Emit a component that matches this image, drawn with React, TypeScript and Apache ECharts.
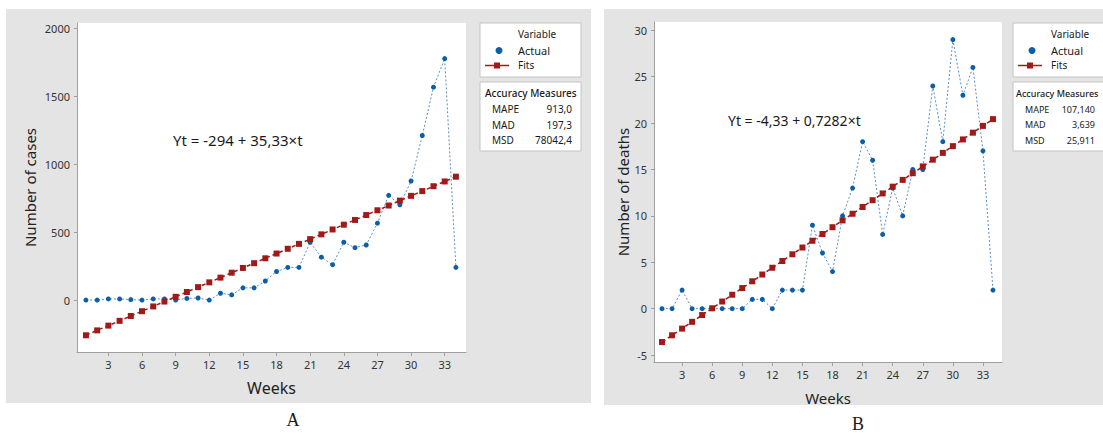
import React, { useEffect, useRef } from 'react';
import * as echarts from 'echarts';

const weeks = [1, 2, 3, 4, 5, 6, 7, 8, 9, 10, 11, 12, 13, 14, 15, 16, 17, 18, 19, 20, 21, 22, 23, 24, 25, 26, 27, 28, 29, 30, 31, 32, 33, 34];
const casesActual = [0, 0, 8, 8, 3, 0, 8, 8, 0, 12, 15, 0, 50, 38, 90, 90, 140, 210, 240, 240, 425, 315, 260, 425, 385, 405, 565, 770, 700, 875, 1210, 1565, 1775, 240];
const casesFits = [-259, -223, -188, -153, -117, -82, -47, -11, 24, 59, 95, 130, 165, 201, 236, 271, 307, 342, 377, 413, 448, 483, 519, 554, 589, 625, 660, 695, 731, 766, 801, 837, 872, 907];
const deathsActual = [0, 0, 2, 0, 0, 0, 0, 0, 0, 1, 1, 0, 2, 2, 2, 9, 6, 4, 10, 13, 18, 16, 8, 13, 10, 15, 15, 24, 18, 29, 23, 26, 17, 2];
const deathsFits = [-3.6, -2.87, -2.15, -1.42, -0.69, 0.04, 0.77, 1.5, 2.22, 2.95, 3.68, 4.41, 5.14, 5.86, 6.59, 7.32, 8.05, 8.78, 9.51, 10.23, 10.96, 11.69, 12.42, 13.15, 13.88, 14.6, 15.33, 16.06, 16.79, 17.52, 18.24, 18.97, 19.7, 20.43];
const weekTicks = [3, 6, 9, 12, 15, 18, 21, 24, 27, 30, 33];
const caseTicks = [0, 500, 1000, 1500, 2000];
const deathTicks = [-5, 0, 5, 10, 15, 20, 25, 30];
const accuracyLabels = ['MAPE', 'MAD', 'MSD'];
const casesAccuracy = ['913,0', '197,3', '78042,4'];
const deathsAccuracy = ['107,140', '3,639', '25,911'];

const FONT = '"Noto Sans", sans-serif';
const BLUE = '#0b5ea8';
const RED = '#a01a1a';
const AXIS = '#a0a0a0';

function txt(x: number, y: number, text: string, size: number, extra: any = {}) {
  const align = extra.align || 'left';
  return {
    type: 'text',
    x,
    y,
    z: 10,
    style: {
      text,
      fontSize: size,
      fontFamily: extra.family || FONT,
      fontWeight: extra.weight || 'normal',
      fill: extra.fill || '#1a1a1a',
      align,
      textAlign: align,
      verticalAlign: 'middle',
      textVerticalAlign: 'middle',
    },
  };
}

function legendBlock(x0: number, width: number, labels: string[], values: string[], valRight: number, fs: number, accX: number) {
  const els: any[] = [];
  els.push({ type: 'rect', z: 5, shape: { x: x0, y: 23, width, height: 54 }, style: { fill: '#fff', stroke: '#c4c4c4', lineWidth: 1 } });
  els.push(txt(x0 + 38, 34, 'Variable', 10));
  els.push({ type: 'circle', z: 10, shape: { cx: x0 + 19, cy: 50.5, r: 3.5 }, style: { fill: BLUE } });
  els.push(txt(x0 + 38, 50, 'Actual', 11));
  els.push({ type: 'line', z: 10, shape: { x1: x0 + 5, y1: 65.5, x2: x0 + 29, y2: 65.5 }, style: { stroke: RED, lineWidth: 1.5 } });
  els.push({ type: 'rect', z: 11, shape: { x: x0 + 14, y: 62.5, width: 6, height: 6 }, style: { fill: RED } });
  els.push(txt(x0 + 38, 65, 'Fits', 10));
  els.push({ type: 'rect', z: 5, shape: { x: x0, y: 82, width, height: 69 }, style: { fill: '#fff', stroke: '#c4c4c4', lineWidth: 1 } });
  els.push(txt(accX, 93, 'Accuracy Measures', fs, { weight: 500 }));
  labels.forEach((l, i) => {
    els.push(txt(x0 + 12, 109 + i * 15.5, l, fs));
    els.push(txt(valRight, 109 + i * 15.5, values[i], fs, { align: 'right' }));
  });
  return els;
}

function axisX(gridIndex: number, gap: number, nameSize: number) {
  return {
    gridIndex,
    type: 'value',
    min: 0.2,
    max: 34.9,
    name: 'Weeks',
    nameLocation: 'middle',
    nameGap: gap,
    nameTextStyle: { fontSize: nameSize, color: '#222', fontFamily: FONT },
    axisLine: { show: true, onZero: false, lineStyle: { color: AXIS, width: 1 } },
    axisTick: { show: true, length: 4, customValues: weekTicks, lineStyle: { color: AXIS } },
    axisLabel: { customValues: weekTicks, fontSize: 11, color: '#333', margin: 7, fontFamily: FONT },
    splitLine: { show: false },
  };
}

function axisY(gridIndex: number, min: number, max: number, ticks: number[], name: string, gap: number) {
  return {
    gridIndex,
    type: 'value',
    min,
    max,
    name,
    nameLocation: 'middle',
    nameGap: gap,
    nameTextStyle: { fontSize: 15, color: '#222', fontFamily: FONT },
    axisLine: { show: true, onZero: false, lineStyle: { color: AXIS, width: 1 } },
    axisTick: { show: true, length: 3, customValues: ticks, lineStyle: { color: AXIS } },
    axisLabel: {
      customValues: ticks,
      fontSize: 11,
      color: '#333',
      margin: 7,
      fontFamily: FONT,
      formatter: (v: number) => String(v),
    },
    splitLine: { show: false },
  };
}

function actualSeries(idx: number, vals: number[]) {
  return {
    type: 'line',
    xAxisIndex: idx,
    yAxisIndex: idx,
    data: weeks.map((w, i) => [w, vals[i]]),
    symbol: 'circle',
    symbolSize: 5,
    itemStyle: { color: BLUE },
    lineStyle: { color: '#5a8ec6', width: 1, type: [2, 2] },
    z: 3,
  };
}

function fitSeries(idx: number, vals: number[]) {
  return {
    type: 'line',
    xAxisIndex: idx,
    yAxisIndex: idx,
    data: weeks.map((w, i) => [w, vals[i]]),
    symbol: 'rect',
    symbolSize: 6,
    itemStyle: { color: RED },
    lineStyle: { color: RED, width: 1.5, type: [4, 3] },
    z: 4,
  };
}

export default function App() {
  const ref = useRef<HTMLDivElement>(null);
  useEffect(() => {
    const chart = echarts.init(ref.current!, null, { renderer: 'svg' });
    const graphics: any[] = [
      { type: 'rect', z: -10, shape: { x: 6, y: 9, width: 585, height: 394 }, style: { fill: '#e4e4e4' } },
      { type: 'rect', z: -10, shape: { x: 604, y: 9, width: 499, height: 396 }, style: { fill: '#e4e4e4' } },
      { type: 'rect', z: -9, shape: { x: 77, y: 23, width: 389, height: 329 }, style: { fill: '#fff' } },
      { type: 'rect', z: -9, shape: { x: 654, y: 22, width: 348, height: 340 }, style: { fill: '#fff' } },
      txt(173, 140, 'Yt = -294 + 35,33\u00d7t', 15),
      txt(728, 120, 'Yt = -4,33 + 0,7282\u00d7t', 14),
      txt(293, 420, 'A', 18, { family: '"Liberation Serif", "DejaVu Serif", serif', align: 'center' }),
      txt(858, 424, 'B', 18, { family: '"Liberation Serif", "DejaVu Serif", serif', align: 'center' }),
      ...legendBlock(480, 101, accuracyLabels, casesAccuracy, 572, 10, 485),
      ...legendBlock(1013, 100, accuracyLabels, deathsAccuracy, 1095, 9, 1016),
    ];
    chart.setOption({
      animation: false,
      backgroundColor: '#fff',
      grid: [
        { left: 77, top: 23, width: 389, height: 329, show: false },
        { left: 654, top: 22, width: 348, height: 340, show: false },
      ],
      xAxis: [axisX(0, 28, 16), axisX(1, 28, 15)],
      yAxis: [
        axisY(0, -382, 2037, caseTicks, 'Number of cases', 40),
        axisY(1, -5.75, 30.9, deathTicks, 'Number of deaths', 22),
      ],
      series: [
        actualSeries(0, casesActual),
        fitSeries(0, casesFits),
        actualSeries(1, deathsActual),
        fitSeries(1, deathsFits),
      ],
      graphic: { elements: graphics },
    });
    return () => chart.dispose();
  }, []);
  return <div ref={ref} style={{ position: 'absolute', left: 0, top: 0, width: 1103, height: 433 }} />;
}
